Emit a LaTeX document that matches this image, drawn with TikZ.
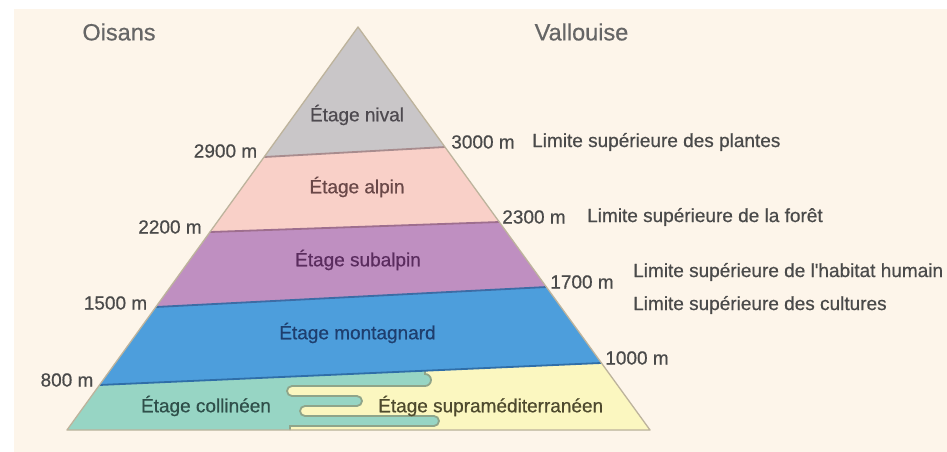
\documentclass[tikz,border=0pt]{standalone}
\usepackage{fontspec}
\setmainfont{Liberation Sans}
\newfontfamily\heavier[FakeBold=0.6]{Liberation Sans}
\usetikzlibrary{calc}
\definecolor{cream}{HTML}{FDF5EA}
\definecolor{nivalc}{HTML}{C9C6C8}
\definecolor{alpinc}{HTML}{F9D0C8}
\definecolor{subalpc}{HTML}{BF8FC1}
\definecolor{montc}{HTML}{4D9EDC}
\definecolor{collc}{HTML}{97D5C4}
\definecolor{suprac}{HTML}{FBF7C0}
\definecolor{edgec}{HTML}{BDB39C}
\definecolor{waveline}{HTML}{8FA58A}
\definecolor{labgray}{HTML}{4A4A4A}
\definecolor{titlegray}{HTML}{666666}
\begin{document}
\begin{tikzpicture}[x=1pt,y=-1pt,
  lab/.style={font=\heavier\fontsize{19}{22}\selectfont, text=labgray, inner sep=0pt},
  ttl/.style={font=\heavier\fontsize{23.5}{27}\selectfont, text=titlegray, inner sep=0pt},
  stage/.style={font=\heavier\fontsize{19}{22}\selectfont, inner sep=0pt},
  bound/.style={line width=1.8pt}]
\useasboundingbox (0,0) rectangle (947,452);
\fill[white] (0,0) rectangle (947,452);
\fill[cream] (14,9) rectangle (947,452);
% pyramid geometry
\coordinate (A) at (358,27);
\coordinate (BL) at (67,430);
\coordinate (BR) at (650,430);
\coordinate (L1) at ($(A)!0.3226!(BL)$);
\coordinate (R1) at ($(A)!0.2978!(BR)$);
\coordinate (L2) at ($(A)!0.5087!(BL)$);
\coordinate (R2) at ($(A)!0.4839!(BR)$);
\coordinate (L3) at ($(A)!0.6948!(BL)$);
\coordinate (R3) at ($(A)!0.6452!(BR)$);
\coordinate (L4) at ($(A)!0.8883!(BL)$);
\coordinate (R4) at ($(A)!0.8337!(BR)$);
% bands
\fill[nivalc] (A) -- (R1) -- (L1) -- cycle;
\fill[alpinc] (L1) -- (R1) -- (R2) -- (L2) -- cycle;
\fill[subalpc] (L2) -- (R2) -- (R3) -- (L3) -- cycle;
\fill[montc] (L3) -- (R3) -- (R4) -- (L4) -- cycle;
\begin{scope}
  \clip (L4) -- (R4) -- (BR) -- (BL) -- cycle;
  \fill[collc] (L4) -- (R4) -- (BR) -- (BL) -- cycle;
  \fill[suprac] (425,350) -- (425,374) arc[start angle=-90, end angle=90, radius=6]
    -- (292,386) arc[start angle=-90, end angle=-270, radius=5]
    -- (357,396) arc[start angle=-90, end angle=90, radius=5]
    -- (305,406) arc[start angle=-90, end angle=-270, radius=5]
    -- (434,416) arc[start angle=-90, end angle=90, radius=5]
    -- (290,426) -- (290,440) -- (700,440) -- (700,350) -- cycle;
  \draw[waveline, line width=1.8pt] (425,368) -- (425,374) arc[start angle=-90, end angle=90, radius=6]
    -- (292,386) arc[start angle=-90, end angle=-270, radius=5]
    -- (357,396) arc[start angle=-90, end angle=90, radius=5]
    -- (305,406) arc[start angle=-90, end angle=-270, radius=5]
    -- (434,416) arc[start angle=-90, end angle=90, radius=5]
    -- (290,426) -- (290,432);
\end{scope}
% boundaries
\draw[bound, color={rgb,255:red,168;green,140;blue,142}] (L1) -- (R1);
\draw[bound, color={rgb,255:red,158;green,110;blue,142}] (L2) -- (R2);
\draw[bound, color={rgb,255:red,60;green,108;blue,165}] (L3) -- (R3);
\draw[bound, color={rgb,255:red,47;green,110;blue,168}] (L4) -- (R4);
\draw[edgec, line width=1.3pt, line join=round] (A) -- (BR) -- (BL) -- cycle;
% titles
\node[ttl] (oisans) at (119,32) {Oisans};
\node[ttl] (vallouise) at (581.5,32) {Vallouise};
% stage labels
\node[stage, text={rgb,255:red,78;green,74;blue,80}] (nival) at (357,115) {Étage nival};
\node[stage, text={rgb,255:red,106;green,72;blue,72}] (alpin) at (357,187) {Étage alpin};
\node[stage, text={rgb,255:red,90;green,44;blue,94}] (subalpin) at (358,260) {Étage subalpin};
\node[stage, text={rgb,255:red,30;green,62;blue,110}] (montagnard) at (357.5,333) {Étage montagnard};
\node[stage, text={rgb,255:red,47;green,79;blue,74}] (collineen) at (206,406) {Étage collinéen};
\node[stage, text={rgb,255:red,78;green,74;blue,46}, anchor=west] (supra) at (378,406) {Étage supraméditerranéen};
% altitudes left
\node[lab] (a2900) at (225.5,151) {2900 m};
\node[lab] (a2200) at (170,227) {2200 m};
\node[lab] (a1500) at (115.5,303) {1500 m};
\node[lab] (a800) at (67,380) {800 m};
% altitudes right
\node[lab] (a3000) at (483,142) {3000 m};
\node[lab] (a2300) at (534,217) {2300 m};
\node[lab] (a1700) at (582,282) {1700 m};
\node[lab] (a1000) at (637,358) {1000 m};
% limits
\node[lab, anchor=west] (plantes) at (532,142) {Limite supérieure des plantes};
\node[lab, anchor=west] (foret) at (587,217) {Limite supérieure de la forêt};
\node[lab, anchor=west] (habitat) at (633,272) {Limite supérieure de l'habitat humain};
\node[lab, anchor=west] (cultures) at (633,305) {Limite supérieure des cultures};
\end{tikzpicture}
\end{document}
